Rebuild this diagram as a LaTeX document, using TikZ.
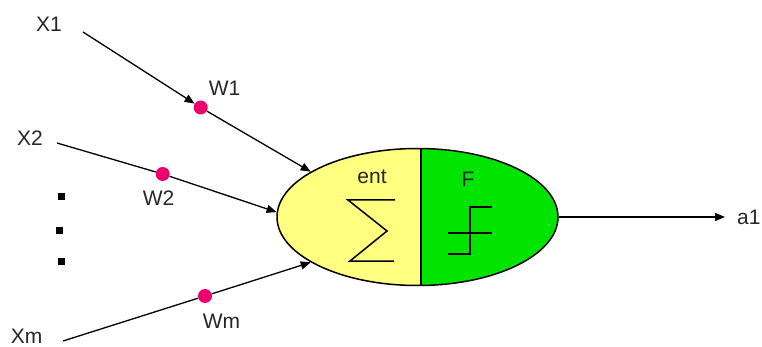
\documentclass[tikz,border=0pt]{standalone}
\usepackage{fontspec}
\setmainfont{Liberation Sans}
\usetikzlibrary{shapes.geometric,arrows.meta}

\definecolor{sumyellow}{RGB}{255,255,128}
\definecolor{actgreen}{RGB}{0,228,0}
\definecolor{weightpink}{RGB}{236,0,110}

\tikzset{
  lbl/.style={inner sep=0pt, font=\fontsize{21}{24}\selectfont, text=black!85},
  wire/.style={line width=1.3pt, black},
  tip/.style={-{Triangle[length=10pt,width=8pt]}},
  weight/.style={circle, fill=weightpink, inner sep=0pt, minimum size=14pt},
  dotmark/.style={rectangle, fill=black, inner sep=0pt, minimum size=7pt},
  glyph/.style={line width=1.5pt, black}
}

\begin{document}
\begin{tikzpicture}[x=1pt,y=-1pt]
  \useasboundingbox (0,0) rectangle (762,347);

  % neuron body: summing half and activation half
  \node[ellipse, draw, line width=1.5pt, minimum width=281pt, minimum height=137pt,
        inner sep=0pt,
        path picture={
          \fill[sumyellow] (path picture bounding box.south west)
            rectangle ([xshift=3.5pt]path picture bounding box.north);
          \fill[actgreen] ([xshift=3.5pt]path picture bounding box.south)
            rectangle (path picture bounding box.north east);
          \draw[line width=1.5pt] ([xshift=3.5pt]path picture bounding box.north)
            -- ([xshift=3.5pt]path picture bounding box.south);
        }] (neuron) at (417.5,217) {};

  \node[lbl] (ent) at (372,177) {ent};
  \node[lbl] (F) at (468,179) {F};

  % summation sign
  \draw[glyph] (395,200) -- (348,200) -- (387,231) -- (350,261) -- (394,261);
  % step activation
  \draw[glyph] (448,254) -- (470,254) -- (470,207) -- (492,207);
  \draw[glyph] (448,233) -- (492,233);

  % inputs
  \node[lbl] (x1) at (49,24) {X1};
  \node[lbl] (x2) at (30,138.5) {X2};
  \node[lbl] (xm) at (26.5,336.5) {Xm};
  \coordinate (x1s) at (83,32);
  \coordinate (x2s) at (57,143);
  \coordinate (xms) at (63,341);

  \node[dotmark] (d1) at (61,197) {};
  \node[dotmark] (d2) at (59,231) {};
  \node[dotmark] (d3) at (61,261) {};

  % weights
  \node[weight] (w1) at (200.7,107.5) {};
  \node[weight] (w2) at (162.7,174) {};
  \node[weight] (wm) at (205,296) {};
  \node[lbl] (w1l) at (224.5,88) {W1};
  \node[lbl] (w2l) at (158.5,198) {W2};
  \node[lbl] (wml) at (221.5,321.5) {Wm};

  \draw[wire,tip] (x1s) -- (w1);
  \draw[wire,tip] (w1) -- (neuron.157);
  \draw[wire] (x2s) -- (w2);
  \draw[wire,tip] (w2) -- (neuron.178);
  \draw[wire] (xms) -- (wm);
  \draw[wire,tip] (wm) -- (neuron.203);

  % output
  \node[lbl, anchor=west] (a1) at (737,217) {a1};
  \draw[wire,tip,shorten >=12pt] (neuron.east) -- (a1.west);
\end{tikzpicture}
\end{document}
